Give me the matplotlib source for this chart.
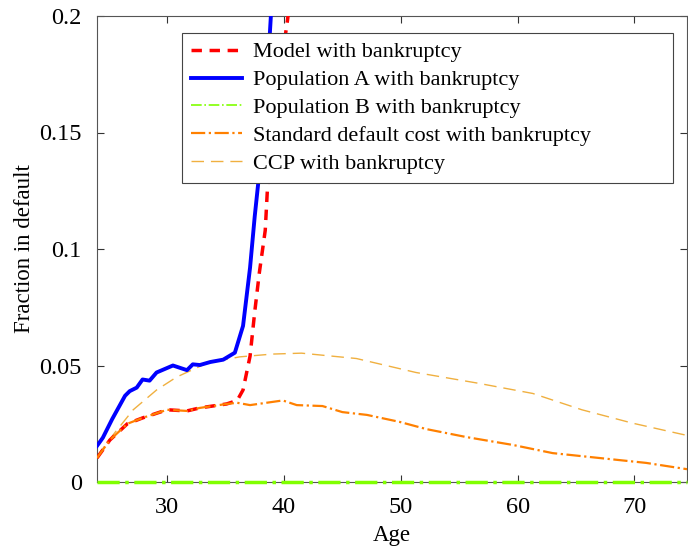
import numpy as np
import matplotlib.pyplot as plt

plt.rcParams['font.family'] = ['Liberation Serif', 'DejaVu Serif']

# data
age_a = [24.0, 24.5, 25.3, 26.4, 26.8, 27.4, 27.9, 28.5, 29.1, 30.5, 31.7, 32.2,
         32.8, 33.7, 34.8, 35.8, 36.5, 37.1, 37.5, 37.9, 38.4, 38.8, 39.0]
pop_a = [0.0155, 0.019, 0.027, 0.037, 0.039, 0.0405, 0.0440, 0.0435, 0.047, 0.050,
         0.048, 0.0505, 0.0502, 0.0515, 0.0525, 0.0555, 0.067, 0.092, 0.114, 0.133,
         0.160, 0.193, 0.21]

age_model = [24.0, 25.1, 26.6, 27.9, 30.0, 31.7, 32.8, 35.1, 36.0, 36.5, 37.1,
             37.5, 37.9, 38.4, 38.6, 39.0, 39.5, 40.3, 40.6]
model = [0.0103, 0.018, 0.025, 0.0275, 0.031, 0.0305, 0.0318, 0.0335, 0.035,
         0.0395, 0.054, 0.073, 0.090, 0.108, 0.127, 0.150, 0.170, 0.198, 0.21]

age_std = [24.0, 25.1, 26.6, 27.9, 30.0, 31.7, 32.8, 35.1, 36.0, 37.1, 38.5, 39.9,
           41.1, 43.3, 45.0, 47.1, 49.9, 52.2, 55.6, 59.6, 63.0, 67.0, 71.0, 74.5]
std_cost = [0.0103, 0.018, 0.025, 0.0275, 0.031, 0.0305, 0.0318, 0.0335, 0.034,
            0.033, 0.034, 0.035, 0.033, 0.0326, 0.030, 0.0288, 0.0258, 0.0227,
            0.0193, 0.0159, 0.0124, 0.0103, 0.0082, 0.0055]

age_ccp = [24.0, 25.5, 27.1, 29.1, 30.8, 33.4, 36.2, 39.0, 41.5, 46.2, 51.3, 56.5,
           61.3, 65.5, 69.8, 73.6, 74.5]
ccp = [0.011, 0.021, 0.031, 0.0395, 0.045, 0.051, 0.0537, 0.0549, 0.0553, 0.053,
       0.047, 0.0425, 0.038, 0.031, 0.0253, 0.021, 0.020]

age_b = [24.0, 74.5]
pop_b = [0.0, 0.0]

fig = plt.figure(figsize=(6.88, 5.47), dpi=100)
ax = fig.add_axes([97/688, 65/547, 590/688, 466/547])

ax.plot(age_model, model, color='#ff0000', linestyle=(0, (3, 2.2)), linewidth=2.5,
        label='Model with bankruptcy', zorder=3)
ax.plot(age_a, pop_a, color='#0000ff', linewidth=2.8,
        label='Population A with bankruptcy', zorder=3)
ax.plot(age_b, pop_b, color='#80ff00', linestyle='-.', linewidth=2.5,
        label='Population B with bankruptcy', clip_on=False, zorder=5)
ax.plot(age_std, std_cost, color='#ff8000', linestyle='-.', linewidth=1.6,
        label='Standard default cost with bankruptcy', zorder=4)
ax.plot(age_ccp, ccp, color='#f0b040', linestyle=(0, (9, 5)), linewidth=1.0,
        label='CCP with bankruptcy', zorder=1)

ax.set_xlim(24, 74.5)
ax.set_ylim(0, 0.2)
ax.set_xticks([30, 40, 50, 60, 70])
ax.set_yticks([0, 0.05, 0.1, 0.15, 0.2])
ax.set_yticklabels(['0', '0.05', '0.1', '0.15', '0.2'])
ax.tick_params(direction='in', top=True, right=True, labelsize=17.5, pad=11,
               length=5, color='#333333')
for s in ax.spines.values():
    s.set_color('#555555')
    s.set_linewidth(0.8)

ax.set_xlabel('Age', fontsize=16.5, labelpad=5)
ax.set_ylabel('Fraction in default', fontsize=16.5, labelpad=3)

leg = ax.legend(loc='upper left', bbox_to_anchor=(85/590, 0, 491/590, 449/466),
                mode='expand', fontsize=16, frameon=True, fancybox=False,
                framealpha=1, edgecolor='#444444', handlelength=2.3,
                handletextpad=0.5, borderpad=0.4, labelspacing=0.33,
                borderaxespad=0)
leg.get_frame().set_linewidth(0.8)
leg.get_lines()[2].set_linewidth(1.2)
leg.set_zorder(10)

fig.savefig('out.png', dpi=100)
